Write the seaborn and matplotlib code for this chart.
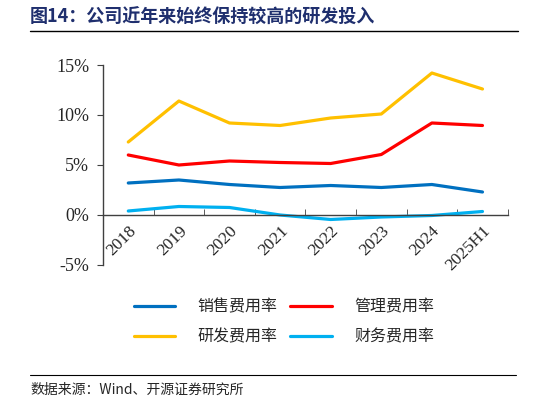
import pandas as pd
import matplotlib
matplotlib.use("Agg")
import matplotlib.pyplot as plt
import seaborn as sns
from matplotlib.ticker import FixedLocator

# 数据
years = ['2018', '2019', '2020', '2021', '2022', '2023', '2024', '2025H1']
xiaoshou = [3.2, 3.5, 3.05, 2.75, 2.95, 2.75, 3.05, 2.3]
guanli = [6.0, 5.0, 5.4, 5.25, 5.15, 6.05, 9.2, 8.95]
yanfa = [7.3, 11.4, 9.2, 8.95, 9.7, 10.1, 14.2, 12.6]
caiwu = [0.4, 0.85, 0.75, 0.0, -0.45, -0.2, -0.05, 0.35]

series = ['销售费用率', '管理费用率', '研发费用率', '财务费用率']
colores = ['#0070C0', '#FF0000', '#FFC000', '#00B0F0']

pos = list(range(len(years)))
data = pd.DataFrame({'pos': pos * 4,
                     'valor': xiaoshou + guanli + yanfa + caiwu,
                     'serie': [s for s in series for _ in years]})

sns.set_style('ticks')
plt.rcParams['font.family'] = ['Noto Sans CJK SC', 'DejaVu Sans']
plt.rcParams['axes.unicode_minus'] = False

fig = plt.figure(figsize=(5.46, 4.05), dpi=100)
ax = fig.add_axes([0.1886, 0.3457, 0.7414, 0.4938])

sns.lineplot(data=data, x='pos', y='valor', hue='serie', palette=colores,
             linewidth=2.3, ax=ax, legend=True, sort=False)

ax.set_xlim(-0.5, 7.5)
ax.set_ylim(-5, 15)
ax.tick_params(axis='x', which='major', length=0, pad=6)
ax.tick_params(axis='x', which='minor', direction='in', length=4, color='#404040')
ax.tick_params(axis='y', direction='out', length=4, color='#404040', pad=6)
ax.set_yticks([-5, 0, 5, 10, 15])
ax.set_yticklabels(['-5%', '0%', '5%', '10%', '15%'])
ax.set_xticks(pos)
ax.set_xticklabels(years)
ax.xaxis.set_minor_locator(FixedLocator([i - 0.5 for i in range(len(years) + 1)]))
ax.spines['bottom'].set_position(('data', 0))
ax.spines['top'].set_visible(False)
ax.spines['right'].set_visible(False)
for s in ['bottom', 'left']:
    ax.spines[s].set_color('#404040')
    ax.spines[s].set_linewidth(1.0)
ax.set_xlabel('')
ax.set_ylabel('')

plt.setp(ax.get_yticklabels(), family='Liberation Serif', fontsize=13)
plt.setp(ax.get_xticklabels(), family='Liberation Serif', fontsize=12.5, rotation=45,
         ha='right', va='top', rotation_mode='anchor')

handles, labels = ax.get_legend_handles_labels()
ax.get_legend().remove()
orden = [0, 2, 1, 3]
fig.legend([handles[i] for i in orden], [labels[i] for i in orden], ncol=2,
           loc='center', bbox_to_anchor=(0.52, 0.205),
           frameon=False, fontsize=11.5, handlelength=2.6, handletextpad=1.4,
           columnspacing=0.8, labelspacing=0.85)

# 标题和来源
fig.text(0.055, 0.958, '图14：公司近年来始终保持较高的研发投入', fontsize=13,
         fontweight='bold', color='#1F2F6E', va='center', ha='left')
fig.add_artist(plt.Line2D([0.055, 0.948], [0.923, 0.923], color='black', linewidth=1.0))
fig.add_artist(plt.Line2D([0.055, 0.945], [0.074, 0.074], color='black', linewidth=0.8))
fig.text(0.055, 0.038, '数据来源：Wind、开源证券研究所', fontsize=10, va='center', ha='left',
         family=['Noto Sans CJK SC', 'Liberation Serif'])

fig.savefig('out.png', dpi=100)
